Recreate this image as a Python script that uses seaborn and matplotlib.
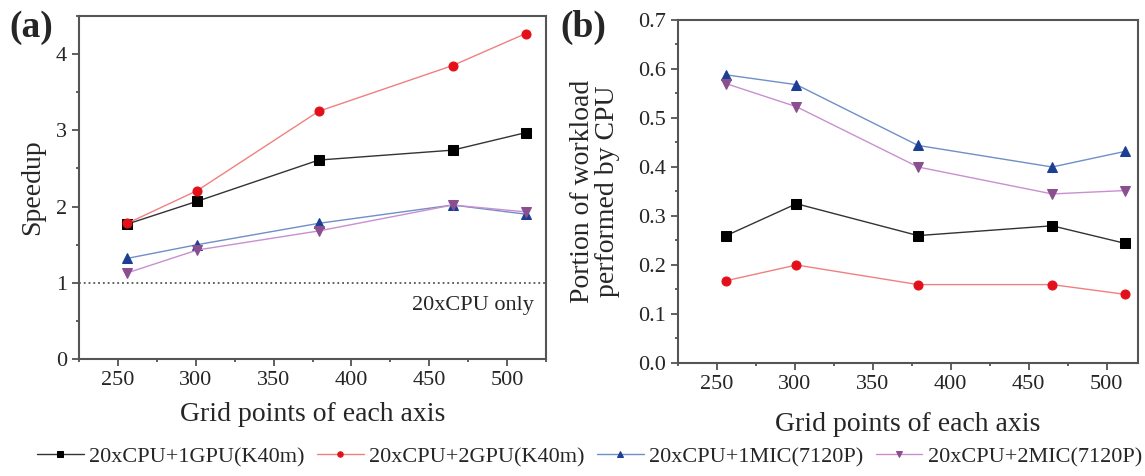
import numpy as np
import pandas as pd
import matplotlib
matplotlib.use("Agg")
import matplotlib.pyplot as plt
from matplotlib.ticker import MultipleLocator, FormatStrFormatter
import seaborn as sns

# data
grid_points = [256, 301, 379, 465, 512]
series_names = ["20xCPU+1GPU(K40m)", "20xCPU+2GPU(K40m)", "20xCPU+1MIC(7120P)", "20xCPU+2MIC(7120P)"]

speedup_1gpu = [1.77, 2.07, 2.61, 2.74, 2.97]
speedup_2gpu = [1.78, 2.21, 3.25, 3.85, 4.27]
speedup_1mic = [1.32, 1.50, 1.78, 2.02, 1.90]
speedup_2mic = [1.13, 1.43, 1.68, 2.02, 1.93]

portion_1gpu = [0.260, 0.325, 0.260, 0.280, 0.244]
portion_2gpu = [0.168, 0.200, 0.160, 0.160, 0.140]
portion_1mic = [0.588, 0.568, 0.444, 0.400, 0.432]
portion_2mic = [0.570, 0.523, 0.400, 0.345, 0.352]

sns.set_style("ticks")
plt.rcParams['font.family'] = ['Liberation Serif', 'DejaVu Serif']

marker_colors = ["#000000", "#e3101a", "#1c3f94", "#8a4f8f"]
line_colors = ["#333333", "#f08080", "#6f8fc8", "#c98fd0"]
markers = ["s", "o", "^", "v"]

fig = plt.figure(figsize=(11.45, 4.76), dpi=100)
ax1 = fig.add_axes([0.0690, 0.2458, 0.4079, 0.7206])
ax2 = fig.add_axes([0.5921, 0.2374, 0.4017, 0.7206])

left_data = [speedup_1gpu, speedup_2gpu, speedup_1mic, speedup_2mic]
right_data = [portion_1gpu, portion_2gpu, portion_1mic, portion_2mic]

for ax, data in [(ax1, left_data), (ax2, right_data)]:
    for i, vals in enumerate(data):
        df = pd.DataFrame({"x": grid_points, "y": vals})
        sns.lineplot(data=df, x="x", y="y", ax=ax, color=line_colors[i], linewidth=1.0,
                     marker=markers[i], markersize=6.5, markerfacecolor=marker_colors[i],
                     markeredgecolor=marker_colors[i], label=series_names[i] if ax is ax1 else None)
    ax.xaxis.set_major_locator(MultipleLocator(50))
    ax.xaxis.set_minor_locator(MultipleLocator(25))
    ax.tick_params(which='major', labelsize=16, length=5, width=1.2, color="#444444")
    ax.tick_params(which='minor', length=2.5, width=1.2, color="#444444")
    for s in ax.spines.values():
        s.set_visible(True)
        s.set_linewidth(1.5)
        s.set_color("#555555")

ax1.legend_.remove()
ax1.set_xlim(225, 525)
ax2.set_xlim(225, 520)
ax1.set_xlabel("Grid points of each axis", fontsize=20, labelpad=9)
ax2.set_xlabel("Grid points of each axis", fontsize=20, labelpad=13)

ax1.set_ylim(0, 4.5)
ax1.yaxis.set_major_locator(MultipleLocator(1))
ax1.yaxis.set_minor_locator(MultipleLocator(0.5))
ax1.set_ylabel("Speedup", fontsize=20, labelpad=8)
ax1.axhline(1, color="#555555", linestyle=":", linewidth=1.3)
ax1.text(517, 0.70, "20xCPU only", ha="right", va="center", fontsize=16)

ax2.set_ylim(0, 0.7)
ax2.yaxis.set_major_locator(MultipleLocator(0.1))
ax2.yaxis.set_minor_locator(MultipleLocator(0.05))
ax2.yaxis.set_major_formatter(FormatStrFormatter('%.1f'))
ax2.set_ylabel("Portion of workload\nperformed by CPU", fontsize=20, labelpad=13, linespacing=1.0)

fig.text(0.008, 0.943, "(a)", fontsize=27, fontweight="bold", va="center")
fig.text(0.489, 0.943, "(b)", fontsize=27, fontweight="bold", va="center")

h, l = ax1.get_legend_handles_labels()
fig.legend(h, l, loc="center", bbox_to_anchor=(0.515, 0.040), ncol=4, frameon=False,
           fontsize=16, handlelength=2.1, columnspacing=0.55, handletextpad=0.25,
           markerscale=0.6)

fig.savefig("out.png", dpi=100)
